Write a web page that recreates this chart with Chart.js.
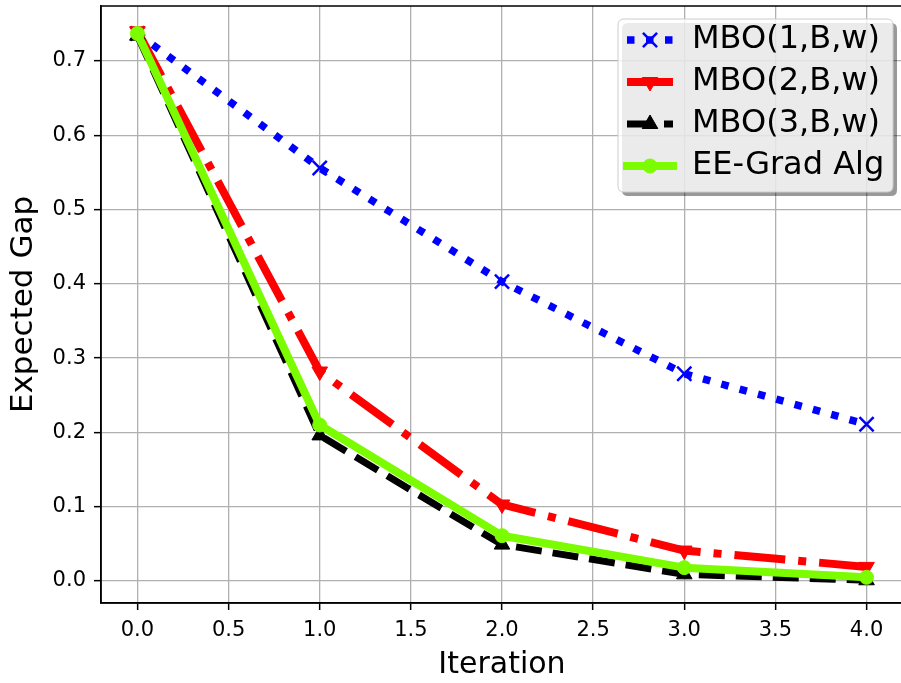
<!DOCTYPE html>
<html>
<head>
<meta charset="utf-8">
<script src="https://cdn.jsdelivr.net/npm/chart.js@4"></script>
<style>
  html, body { margin: 0; padding: 0; background: #fff; overflow: hidden; }
  #wrap { width: 903px; height: 683px; position: relative; }
</style>
</head>
<body>
<div id="wrap"><canvas id="c" width="903" height="683"></canvas></div>
<script>
// ---- data ----
const iterations = [0, 1, 2, 3, 4];
const mbo1 = [0.737, 0.556, 0.403, 0.279, 0.211];
const mbo2 = [0.740, 0.282, 0.103, 0.041, 0.019];
const mbo3 = [0.734, 0.196, 0.049, 0.009, 0.001];
const eeGrad = [0.737, 0.210, 0.061, 0.018, 0.005];
const seriesLabels = ['MBO(1,B,w)', 'MBO(2,B,w)', 'MBO(3,B,w)', 'EE-Grad Alg'];
const xTickStep = 0.5;
const yTickStep = 0.1;
const xLabel = 'Iteration';
const yLabel = 'Expected Gap';

const FONT = "'DejaVu Sans', sans-serif";
const toPts = vals => iterations.map((x, i) => ({ x: x, y: vals[i] }));

const styles = [
  { color: '#0000ff', lw: 7.5, dash: [7.5, 11.5], pointStyle: 'crossRot', radius: 10, rot: 0, pbw: 2.5, order: 4 },
  { color: '#ff0000', lw: 8, dash: [51, 13, 8, 13], pointStyle: 'triangle', radius: 9, rot: 180, pbw: 1, order: 3 },
  { color: '#000000', lw: 7, dash: [26, 11], pointStyle: 'triangle', radius: 9, rot: 0, pbw: 1, order: 2 },
  { color: '#7cfc00', lw: 8, dash: [], pointStyle: 'circle', radius: 7, rot: 0, pbw: 1, order: 1 }
];
const allSeries = [mbo1, mbo2, mbo3, eeGrad];

const datasets = allSeries.map((vals, i) => {
  const s = styles[i];
  return {
    label: seriesLabels[i],
    data: toPts(vals),
    borderColor: s.color,
    backgroundColor: s.color,
    borderWidth: s.lw,
    borderDash: s.dash,
    borderCapStyle: s.dash.length ? 'butt' : 'round',
    borderJoinStyle: 'round',
    tension: 0,
    fill: false,
    pointStyle: s.pointStyle,
    pointRadius: s.radius,
    pointRotation: s.rot,
    pointBorderWidth: s.pbw,
    pointBackgroundColor: s.color,
    pointBorderColor: s.color,
    pointHoverRadius: s.radius,
    order: s.order
  };
});

const framePlugin = {
  id: 'frameLegend',
  afterDatasetsDraw(chart) {
    const { ctx, chartArea: a } = chart;
    ctx.save();
    ctx.strokeStyle = '#000';
    ctx.lineWidth = 1.5;
    ctx.strokeRect(a.left, a.top, a.right - a.left, a.bottom - a.top);
    ctx.restore();

    // legend
    const bx = 618, by = 19, bw = 275, bh = 173, r = 6;
    const rr = (x, y, w, h) => {
      ctx.beginPath();
      ctx.moveTo(x + r, y);
      ctx.lineTo(x + w - r, y);
      ctx.quadraticCurveTo(x + w, y, x + w, y + r);
      ctx.lineTo(x + w, y + h - r);
      ctx.quadraticCurveTo(x + w, y + h, x + w - r, y + h);
      ctx.lineTo(x + r, y + h);
      ctx.quadraticCurveTo(x, y + h, x, y + h - r);
      ctx.lineTo(x, y + r);
      ctx.quadraticCurveTo(x, y, x + r, y);
      ctx.closePath();
    };
    ctx.save();
    rr(bx + 4, by + 4, bw, bh);
    ctx.fillStyle = 'rgba(0,0,0,0.4)';
    ctx.fill();
    rr(bx, by, bw, bh);
    ctx.fillStyle = 'rgba(255,255,255,0.8)';
    ctx.fill();
    ctx.strokeStyle = '#cccccc';
    ctx.lineWidth = 1;
    ctx.stroke();

    const rowY = [40, 82, 124, 166];
    const hx0 = 627, hx1 = 673, hxc = 650;
    for (let i = 0; i < 4; i++) {
      const s = styles[i];
      const y = rowY[i];
      ctx.save();
      ctx.strokeStyle = s.color;
      ctx.lineWidth = s.lw;
      ctx.setLineDash(s.dash);
      ctx.lineCap = s.dash.length ? 'butt' : 'square';
      ctx.beginPath();
      ctx.moveTo(hx0, y);
      ctx.lineTo(hx1, y);
      ctx.stroke();
      ctx.restore();
      ctx.save();
      ctx.fillStyle = s.color;
      ctx.strokeStyle = s.color;
      ctx.lineWidth = s.pbw;
      Chart.helpers.drawPoint(ctx, { pointStyle: s.pointStyle, radius: s.radius, rotation: s.rot, borderWidth: s.pbw }, hxc, y);
      ctx.restore();

      ctx.fillStyle = '#000';
      ctx.font = '32px ' + FONT;
      ctx.textBaseline = 'middle';
      ctx.textAlign = 'left';
      ctx.fillText(seriesLabels[i], 692, y);
    }
    ctx.restore();
  }
};

const zeroPad = scale => {
  scale.paddingTop = 0; scale.paddingBottom = 0;
  scale.paddingLeft = 0; scale.paddingRight = 0;
};

new Chart(document.getElementById('c'), {
  type: 'line',
  data: { datasets },
  options: {
    responsive: false,
    animation: false,
    devicePixelRatio: 1,
    layout: { autoPadding: false, padding: { left: 0, right: 0, top: 6, bottom: 0 } },
    plugins: { legend: { display: false }, tooltip: { enabled: false } },
    scales: {
      x: {
        type: 'linear',
        min: -0.2,
        max: 4.2,
        afterFit(scale) { scale.height = 80; zeroPad(scale); },
        ticks: {
          stepSize: xTickStep,
          includeBounds: false,
          color: '#000',
          font: { family: FONT, size: 21 },
          padding: 8,
          maxRotation: 0,
          autoSkip: false,
          callback: v => Number(v).toFixed(1)
        },
        grid: { color: '#b0b0b0', lineWidth: 1.3, tickColor: '#000', tickLength: 7, tickWidth: 1.5 },
        border: { display: true, color: '#000', width: 1.5 },
        title: { display: true, text: xLabel, color: '#000', font: { family: FONT, size: 30 }, padding: { top: 0, bottom: 0 } }
      },
      y: {
        type: 'linear',
        min: -0.0296,
        max: 0.774,
        afterFit(scale) { scale.width = 101; zeroPad(scale); },
        ticks: {
          stepSize: yTickStep,
          includeBounds: false,
          color: '#000',
          font: { family: FONT, size: 21 },
          padding: 8,
          autoSkip: false,
          callback: v => Number(v).toFixed(1)
        },
        grid: { color: '#b0b0b0', lineWidth: 1.3, tickColor: '#000', tickLength: 7, tickWidth: 1.5 },
        border: { display: true, color: '#000', width: 1.5 },
        title: { display: true, text: yLabel, color: '#000', font: { family: FONT, size: 31 }, padding: { top: 5, bottom: 0 } }
      }
    }
  },
  plugins: [framePlugin]
});
</script>
</body>
</html>
